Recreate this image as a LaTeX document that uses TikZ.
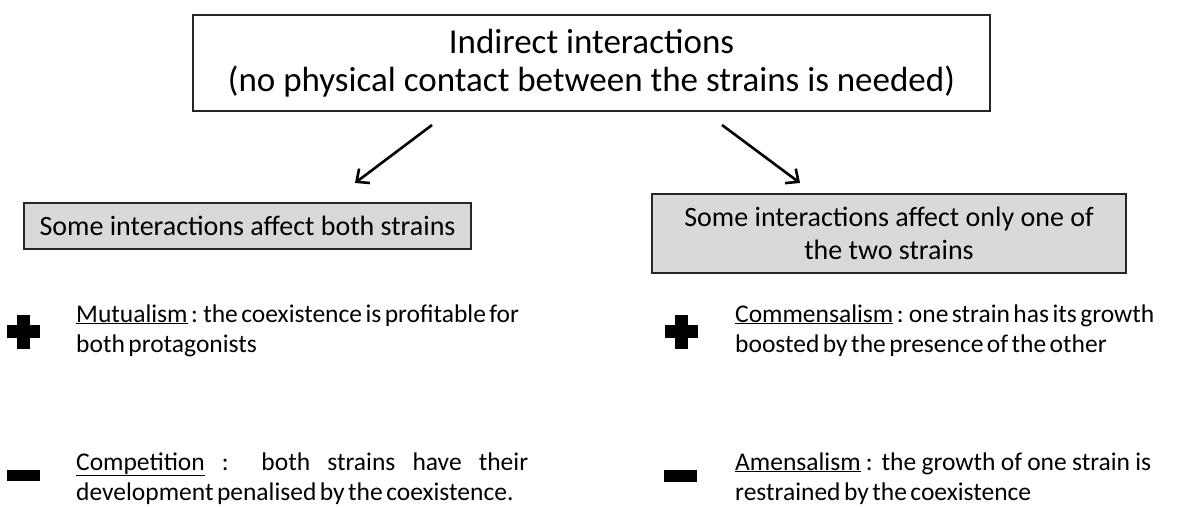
\documentclass[tikz,border=0pt]{standalone}
\usepackage{fontspec}
\setmainfont{Carlito}
\newfontfamily\bodyfont{Carlito}[WordSpace=0.6]
\usetikzlibrary{arrows.meta}
\begin{document}
\begin{tikzpicture}[x=1pt,y=-1pt,
 box/.style={draw=black!85, line width=1.3pt, inner sep=0pt, align=center},
 greybox/.style={box, fill=black!15, font=\fontsize{28}{33}\selectfont},
 arr/.style={line width=2.6pt, -{Straight Barb[length=10pt,width=18pt,line width=2.6pt]}},
 desc/.style={anchor=base west, inner sep=0pt, align=left, font=\bodyfont\fontsize{25.5}{30}\selectfont},
 sign/.style={fill=black}
]
\useasboundingbox (0,0) rectangle (1180,506);
\node[box, minimum width=797pt, minimum height=96pt, font=\fontsize{35}{38}\selectfont] (top) at (591.5,63) {Indirect interactions\\(no physical contact between the strains is needed)};
\node[greybox, minimum width=447pt, minimum height=46pt] (both) at (247.5,226) {Some interactions affect both strains};
\node[greybox, minimum width=474pt, minimum height=79pt] (one) at (889,233.5) {Some interactions affect only one of\\the two strains};
\coordinate (l1) at (432,125);
\coordinate (l2) at (355,183);
\coordinate (r1) at (722,125);
\coordinate (r2) at (800,183);
\draw[arr] (l1) -- (l2);
\draw[arr] (r1) -- (r2);
% signs
\fill[sign] (17,315) rectangle (30,349);
\fill[sign] (7,325) rectangle (40,338);
\fill[sign] (675,315) rectangle (688,349);
\fill[sign] (665,325) rectangle (698,338);
\fill[sign] (7,470) rectangle (40,481);
\fill[sign] (664,470) rectangle (697,482);
% texts (base anchor = baseline of last line)
\node[desc] (mut) at (76,352) {\underline{Mutualism} : the coexistence is profitable for\\both protagonists};
\node[desc] (comp) at (76,500) {\makebox[452pt][s]{\underline{Competition} : both strains have their}\\development penalised by the coexistence.};
\node[desc] (comm) at (735,352) {\underline{Commensalism} : one strain has its growth\\boosted by the presence of the other};
\node[desc] (amen) at (735,500) {\makebox[416pt][s]{\underline{Amensalism} : the growth of one strain is}\\restrained by the coexistence};
\end{tikzpicture}
\end{document}
